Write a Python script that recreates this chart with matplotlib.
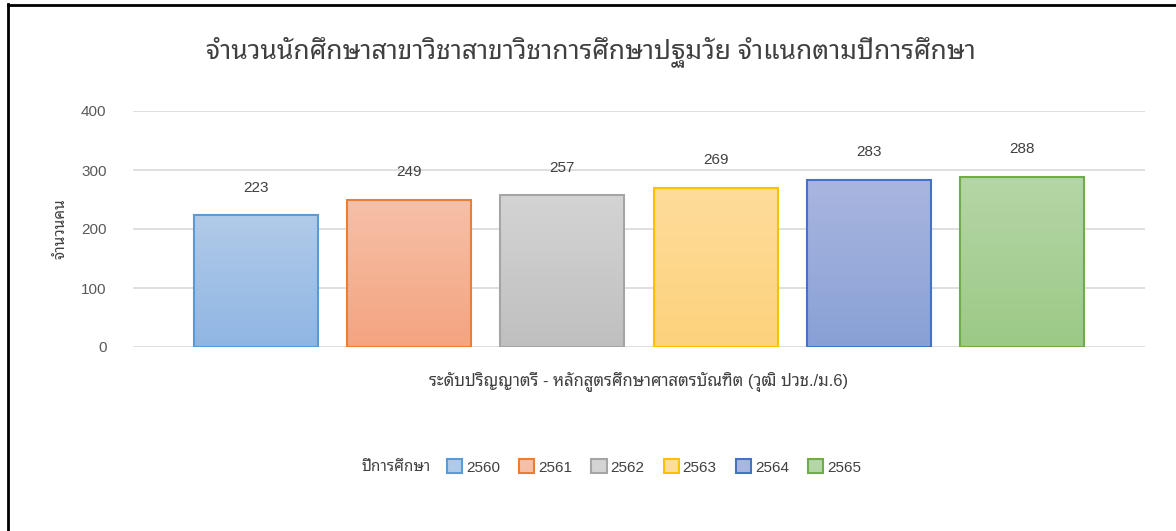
import matplotlib
matplotlib.use("Agg")
import matplotlib.pyplot as plt
import numpy as np
from matplotlib.colors import LinearSegmentedColormap
from matplotlib.patches import Patch
from matplotlib.lines import Line2D

# data
years = ["2560", "2561", "2562", "2563", "2564", "2565"]
students = [223, 249, 257, 269, 283, 288]
category = "ระดับปริญญาตรี - หลักสูตรศึกษาศาสตรบัณฑิต (วุฒิ ปวช./ม.6)"
title = "จำนวนนักศึกษาสาขาวิชาสาขาวิชาการศึกษาปฐมวัย จำแนกตามปีการศึกษา"
ylabel = "จำนวนคน"
legend_title = "ปีการศึกษา"

# colours: (top, bottom, edge)
tops = ["#b1cae9", "#f6c0a8", "#d4d4d4", "#fedc9a", "#a9b6df", "#b5d6a6"]
bottoms = ["#8fb6e3", "#f4a47f", "#bfbfbf", "#fdd27c", "#88a0d6", "#9cc986"]
edges = ["#5b9bd5", "#ed7d31", "#a5a5a5", "#ffc000", "#4472c4", "#70ad47"]

FONT = ["Liberation Sans", "Noto Sans Thai Looped", "DejaVu Sans"]
plt.rcParams["font.family"] = FONT
TXT = "#595959"

fig = plt.figure(figsize=(11.76, 5.31), dpi=100)
ax = fig.add_axes([133 / 1176, 1 - 347 / 531, 1012 / 1176, 236 / 531])

x = np.arange(len(years))
bars = ax.bar(x, students, width=0.81, facecolor="none", edgecolor=edges,
              linewidth=1.5, zorder=3)

# gradient fill per bar
grad = np.linspace(0, 1, 256).reshape(-1, 1)
for b, t, bo in zip(bars, tops, bottoms):
    cmap = LinearSegmentedColormap.from_list("g", [bo, t])
    ax.imshow(grad, cmap=cmap, origin="lower", aspect="auto",
              extent=[b.get_x(), b.get_x() + b.get_width(), 0, b.get_height()],
              zorder=2)

for xi, v in zip(x, students):
    ax.annotate(str(v), (xi, v), xytext=(0, 15), textcoords="offset points",
                ha="center", va="bottom", fontsize=11, color="#404040")

ax.set_xlim(-0.80, 5.80)
ax.set_ylim(0, 400)
ax.set_yticks([0, 100, 200, 300, 400])
ax.yaxis.grid(True, color="#d9d9d9", linewidth=1.2, zorder=0)
ax.set_axisbelow(True)
for s in ax.spines.values():
    s.set_visible(False)
ax.tick_params(axis="y", length=0, pad=19, labelsize=11, labelcolor=TXT)
ax.set_xticks([])
ax.set_xlabel(category, fontsize=12, color="#404040", labelpad=18)
ax.set_ylabel(ylabel, fontsize=11, color="#404040", labelpad=10)

fig.text(591 / 1176, 1 - 52 / 531, title, ha="center", va="center",
         fontsize=19, color="#404040",
         family=["Noto Sans Thai Looped", "DejaVu Sans"], fontweight="light")

# legend
handles = [Patch(facecolor=c, edgecolor=e, linewidth=1.5)
           for c, e in zip(tops, edges)]
fig.legend(handles, years, loc="center left", bbox_to_anchor=(447 / 1176, 1 - 467 / 531),
           ncol=6, frameon=False, fontsize=11, handlelength=1.0, handleheight=1.0,
           handletextpad=0.25, columnspacing=1.25, borderpad=0, borderaxespad=0,
           labelcolor="#404040")
fig.text(396 / 1176, 1 - 467 / 531, legend_title, ha="center", va="center",
         fontsize=11, color="#404040")

# outer border (left and top)
fig.add_artist(Line2D([8 / 1176, 8 / 1176], [0, 1 - 4 / 531], color="black", lw=2,
                      transform=fig.transFigure))
fig.add_artist(Line2D([8 / 1176, 1], [1 - 5 / 531, 1 - 5 / 531], color="black", lw=2,
                      transform=fig.transFigure))

fig.savefig("out.png", dpi=100, facecolor="white")
